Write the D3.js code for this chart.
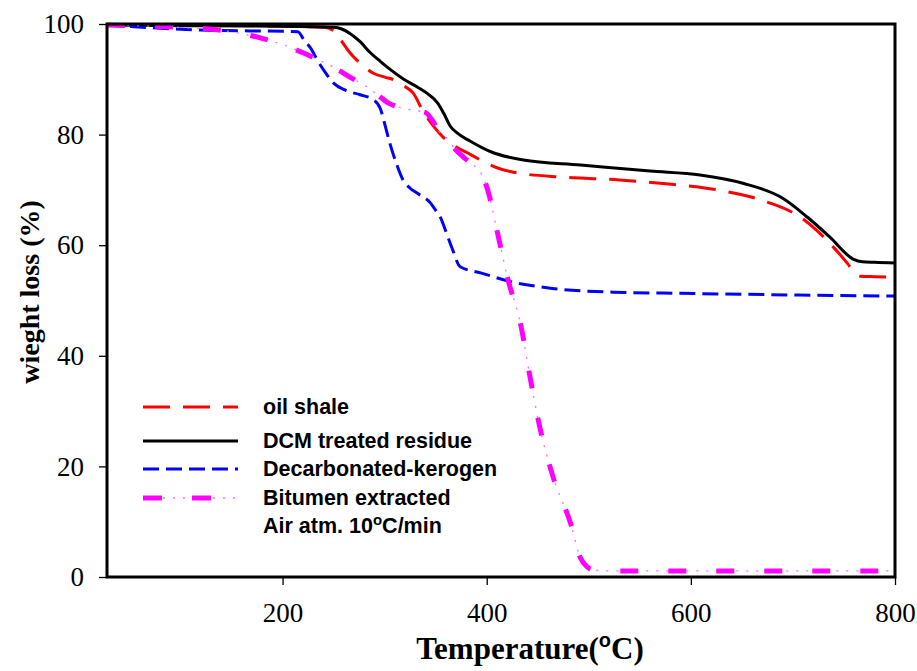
<!DOCTYPE html>
<html>
<head>
<meta charset="utf-8">
<script src="https://cdn.jsdelivr.net/npm/d3@7"></script>
<style>
  body { margin: 0; background: #fff; }
  #chart { width: 917px; height: 671px; }
</style>
</head>
<body>
<div id="chart"></div>
<script>
// TGA curves (temperature in °C, weight in %)
const oilShaleT = [28, 100, 200, 240, 250, 257, 266, 278, 289, 300, 309, 318, 328, 338, 348, 357, 367, 380, 394, 410, 426, 475, 530, 570, 626, 675, 707, 730, 753, 760, 766, 780, 800];
const oilShaleW = [99.9, 99.8, 99.6, 99.4, 98.8, 97.1, 94.8, 92.6, 91.1, 90.4, 89.9, 88.9, 87.5, 84.1, 81.5, 79.6, 78.1, 76.8, 75.4, 74.0, 73.2, 72.3, 71.8, 71.2, 70.0, 67.8, 65.1, 61.5, 56.8, 55.2, 54.4, 54.3, 54.2];

const dcmT = [28, 100, 200, 250, 258, 266, 276, 286, 296, 306, 318, 332, 342, 352, 358, 364, 371, 384, 404, 436, 492, 560, 609, 651, 690, 714, 736, 759, 768, 780, 800];
const dcmW = [99.8, 99.7, 99.6, 99.4, 99.1, 98.3, 96.8, 94.8, 93.2, 91.7, 90.1, 88.6, 87.4, 85.7, 83.8, 81.6, 80.3, 78.8, 76.9, 75.4, 74.5, 73.4, 72.7, 71.2, 68.5, 65.1, 61.5, 57.5, 57.0, 56.9, 56.8];

const kerogenT = [28, 120, 215, 221, 228, 234, 242, 250, 262, 276, 289, 296, 300, 305, 312, 318, 325, 332, 345, 350, 355, 360, 366, 374, 394, 426, 459, 524, 590, 700, 800];
const kerogenW = [99.8, 98.9, 98.6, 97.1, 95.5, 93.5, 91.2, 89.3, 88.0, 87.2, 86.3, 84.6, 82.0, 78.5, 74.5, 71.8, 70.3, 69.4, 67.6, 66.3, 64.9, 62.5, 59.5, 56.1, 55.0, 53.3, 52.3, 51.5, 51.3, 51.0, 50.8];

const bitumenT = [28, 87, 146, 178, 201, 220, 234, 250, 266, 283, 293, 303, 313, 328, 340, 348, 355, 362, 368, 378, 387, 395, 401, 410, 421, 433, 443, 452, 465, 482, 492, 498, 504, 520, 800];
const bitumenW = [99.8, 99.5, 98.7, 97.5, 96.2, 94.8, 93.6, 92.2, 90.4, 88.6, 87.2, 85.8, 85.0, 84.4, 84.0, 82.2, 80.1, 79.2, 77.6, 75.8, 74.5, 72.8, 70.0, 62.7, 53.7, 45.9, 35.6, 27.1, 18.1, 9.8, 3.4, 1.9, 1.3, 1.1, 1.1];

const xTicks = [200, 400, 600, 800];
const yTicks = [0, 20, 40, 60, 80, 100];

const seriesNames = ["oil shale", "DCM treated residue", "Decarbonated-kerogen", "Bitumen extracted"];

const width = 917;
const height = 671;
const margin = { top: 24, right: 22, bottom: 94, left: 107 };
const innerW = width - margin.left - margin.right;
const innerH = height - margin.top - margin.bottom;

const svg = d3
  .select("#chart")
  .append("svg")
  .attr("width", width)
  .attr("height", height);

const g = svg
  .append("g")
  .attr("transform", `translate(${margin.left},${margin.top})`);

const x = d3.scaleLinear().domain([28, 800]).range([0, innerW]);
const y = d3.scaleLinear().domain([0, 100]).range([innerH, 0]);

const zip = (ts, ws) => ts.map((t, i) => ({ t, w: ws[i] }));

const line = d3
  .line()
  .x((d) => x(d.t))
  .y((d) => y(d.w))
  .curve(d3.curveMonotoneX);

// axes
const xAxis = g
  .append("g")
  .attr("transform", `translate(0,${innerH})`)
  .call(d3.axisBottom(x).tickValues(xTicks).tickSize(8).tickPadding(18));
const yAxis = g
  .append("g")
  .call(d3.axisLeft(y).tickValues(yTicks).tickSize(8).tickPadding(15));

[xAxis, yAxis].forEach((ax) => {
  ax.select(".domain").remove();
  ax.selectAll(".tick line").attr("stroke", "#000").attr("stroke-width", 1.3);
  ax.selectAll(".tick text")
    .style("font-family", "'Liberation Serif', 'Times New Roman', serif")
    .style("font-size", "27px")
    .attr("fill", "#000");
});

// curves
const curves = [
  { data: zip(oilShaleT, oilShaleW), color: "#ff0000", width: 3, dash: "27,13" },
  { data: zip(dcmT, dcmW), color: "#000000", width: 3, dash: null },
  { data: zip(kerogenT, kerogenW), color: "#0000ff", width: 3, dash: "16,7" }
];

curves.forEach((c) => {
  g.append("path")
    .datum(c.data)
    .attr("fill", "none")
    .attr("stroke", c.color)
    .attr("stroke-width", c.width)
    .attr("stroke-dasharray", c.dash)
    .attr("d", line);
});

// bitumen: thick dash with thin dotted gaps
const bit = zip(bitumenT, bitumenW);
g.append("path")
  .datum(bit)
  .attr("fill", "none")
  .attr("stroke", "#ff66ff")
  .attr("stroke-width", 1.3)
  .attr("stroke-dasharray", "2,8")
  .attr("d", line);
g.append("path")
  .datum(bit)
  .attr("fill", "none")
  .attr("stroke", "#ff00ff")
  .attr("stroke-width", 5)
  .attr("stroke-dasharray", "18,30")
  .attr("d", line);

// frame
g.append("rect")
  .attr("x", 0)
  .attr("y", 0)
  .attr("width", innerW)
  .attr("height", innerH)
  .attr("fill", "none")
  .attr("stroke", "#000")
  .attr("stroke-width", 3);

// legend
const legend = g.append("g").attr("transform", "translate(36,0)");
const legendY = [383, 417, 445, 474];
const legendItems = [
  { name: seriesNames[0], color: "#ff0000", width: 3, dash: "27,13" },
  { name: seriesNames[1], color: "#000000", width: 3, dash: null },
  { name: seriesNames[2], color: "#0000ff", width: 3, dash: "16,7" },
  { name: seriesNames[3], color: "#ff00ff", width: 5, dash: "19,30" }
];
const legendFont = "21.5px";
legendItems.forEach((it, i) => {
  if (i === 3) {
    legend.append("line")
      .attr("x1", 0).attr("x2", 95)
      .attr("y1", legendY[i]).attr("y2", legendY[i])
      .attr("stroke", "#ff66ff")
      .attr("stroke-width", 1.3)
      .attr("stroke-dasharray", "2,8");
  }
  legend.append("line")
    .attr("x1", 0).attr("x2", 95)
    .attr("y1", legendY[i]).attr("y2", legendY[i])
    .attr("stroke", it.color)
    .attr("stroke-width", it.width)
    .attr("stroke-dasharray", it.dash);
  legend.append("text")
    .attr("x", 120)
    .attr("y", legendY[i] + 7)
    .style("font-family", "'Liberation Sans', Arial, sans-serif")
    .style("font-weight", "bold")
    .style("font-size", legendFont)
    .text(it.name);
});
const note = legend.append("text")
  .attr("x", 120)
  .attr("y", 509)
  .style("font-family", "'Liberation Sans', Arial, sans-serif")
  .style("font-weight", "bold")
  .style("font-size", legendFont);
note.append("tspan").text("Air atm. 10");
note.append("tspan").attr("dy", -8).style("font-size", "15px").text("o");
note.append("tspan").attr("dy", 8).text("C/min");

// axis titles
const xt = svg.append("text")
  .attr("x", 530)
  .attr("y", 659)
  .attr("text-anchor", "middle")
  .style("font-family", "'Liberation Serif', 'Times New Roman', serif")
  .style("font-weight", "bold")
  .style("font-size", "31px");
xt.append("tspan").text("Temperature(");
xt.append("tspan")
  .attr("dy", -12)
  .style("font-family", "'Liberation Sans', Arial, sans-serif")
  .style("font-size", "20px")
  .text("o");
xt.append("tspan").attr("dy", 12).text("C)");

svg.append("text")
  .attr("transform", `translate(39,${292}) rotate(-90)`)
  .attr("text-anchor", "middle")
  .style("font-family", "'Liberation Serif', 'Times New Roman', serif")
  .style("font-weight", "bold")
  .style("font-size", "28px")
  .text("wieght loss (%)");
</script>
</body>
</html>
